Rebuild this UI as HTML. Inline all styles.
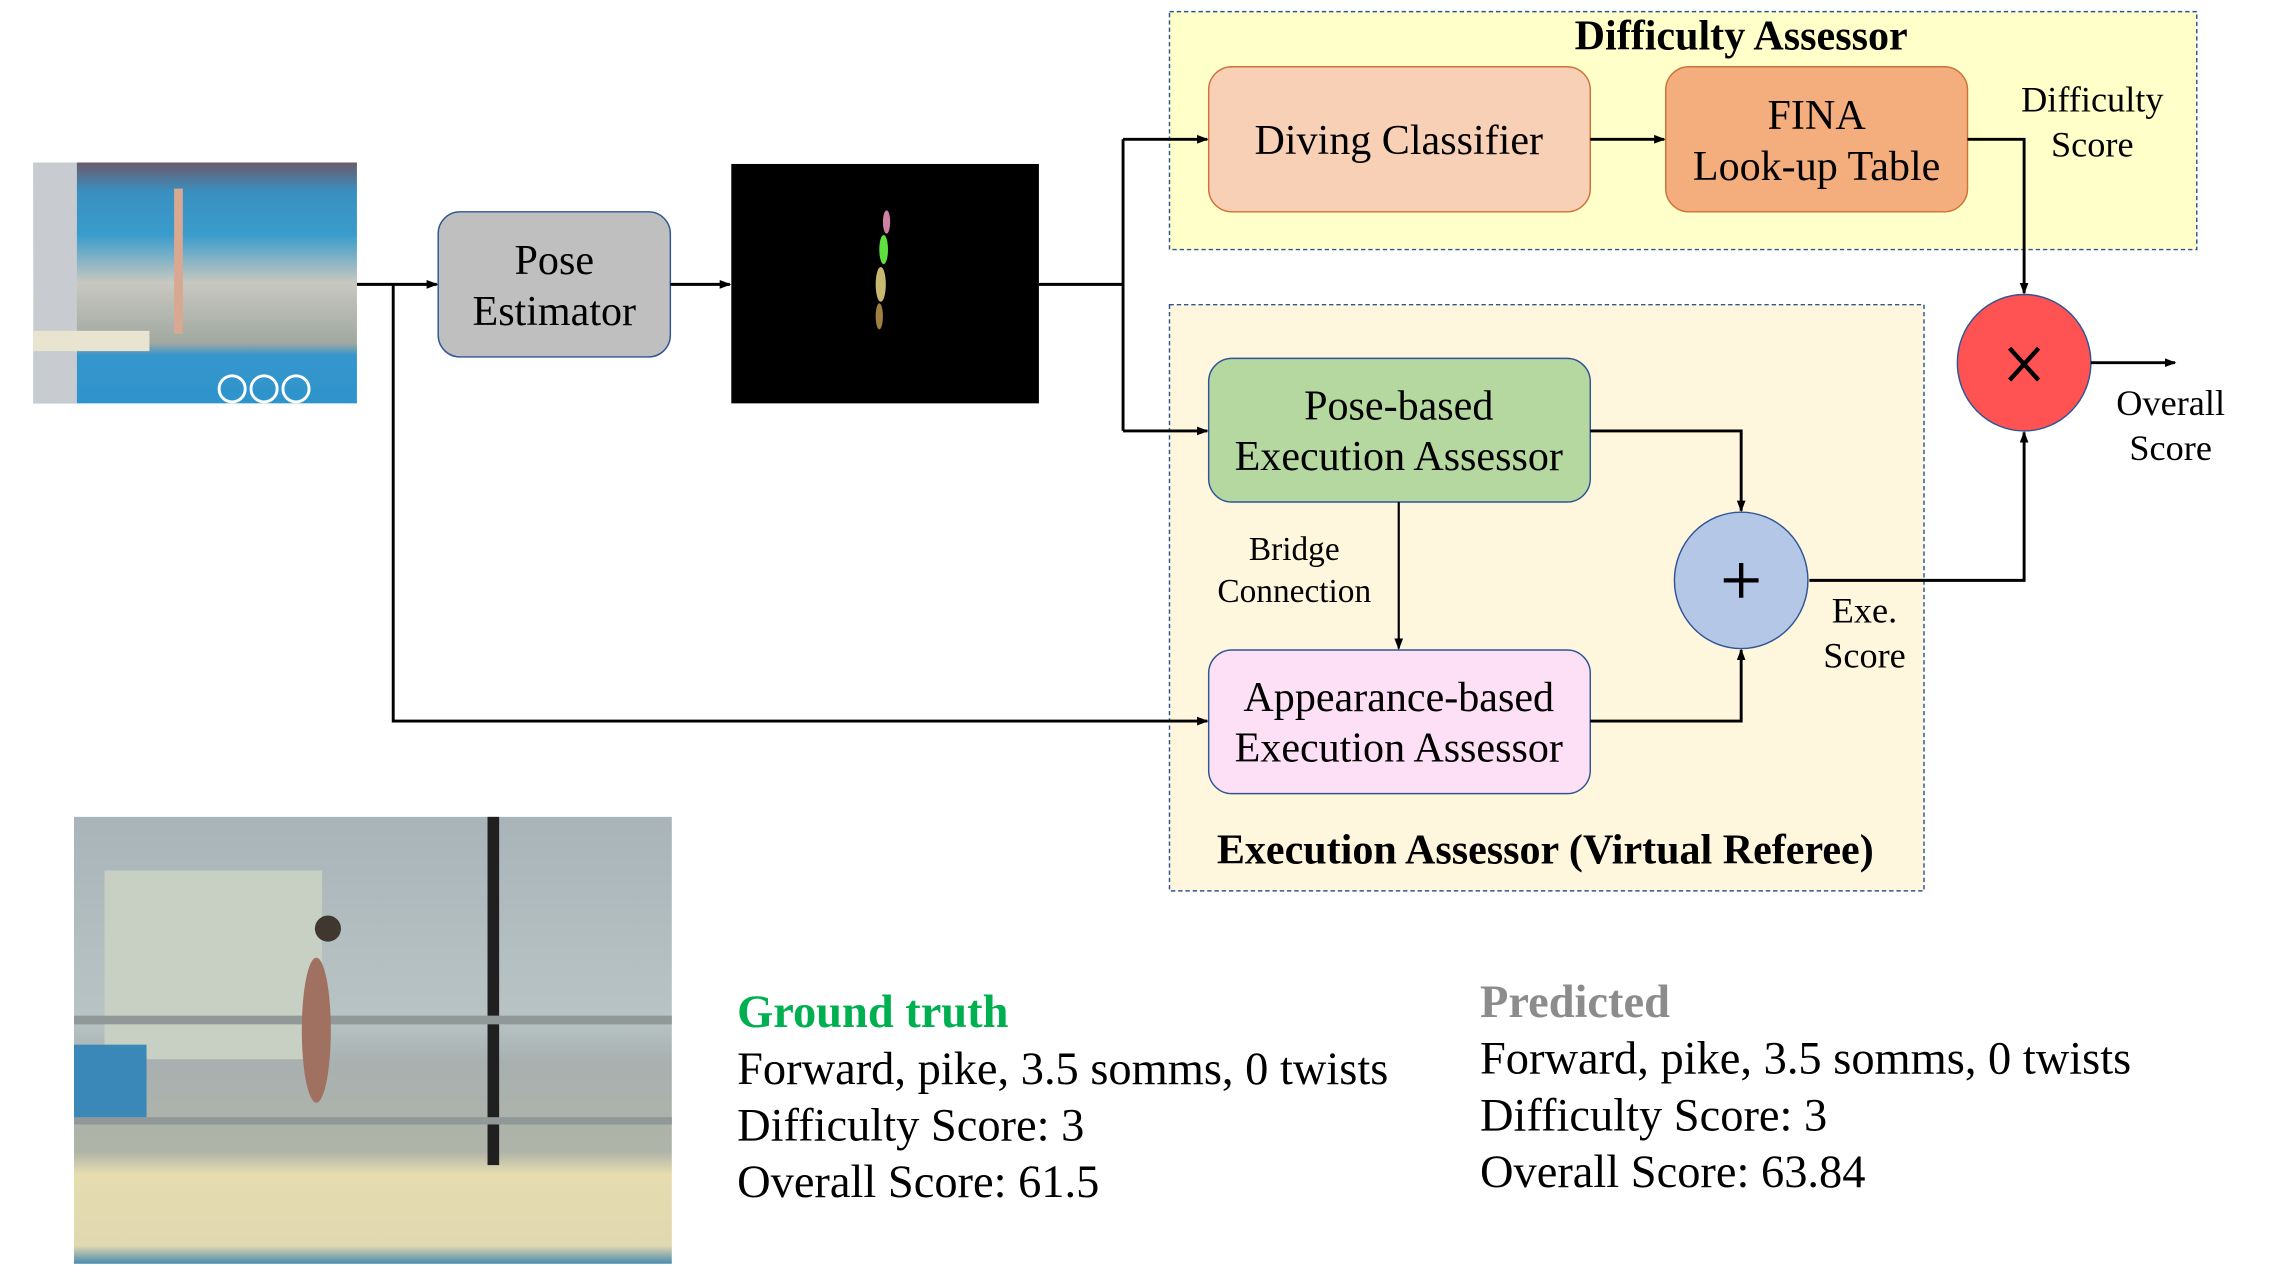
<!DOCTYPE html>
<html><head><meta charset="utf-8"><style>
html,body{margin:0;padding:0;background:#fff;width:2276px;height:1280px;overflow:hidden}
svg{display:block}
text{font-family:"Liberation Serif","Times New Roman",serif;fill:#000}
</style></head><body>
<svg width="2276" height="1280" viewBox="0 0 1568.6 882.2" preserveAspectRatio="none" xmlns="http://www.w3.org/2000/svg">
<defs>
<marker id="ar" markerWidth="8" markerHeight="8" refX="7" refY="4" orient="auto" markerUnits="userSpaceOnUse"><path d="M0,1 L8,4 L0,7 Z" fill="#000"/></marker>
<linearGradient id="p1" x1="0" y1="0" x2="0" y2="1"><stop offset="0" stop-color="#6a5a6a"/><stop offset="0.12" stop-color="#3a8fc0"/><stop offset="0.3" stop-color="#3a9ccc"/><stop offset="0.5" stop-color="#c8c8c0"/><stop offset="0.75" stop-color="#a0a8a0"/><stop offset="0.8" stop-color="#3596cc"/><stop offset="1" stop-color="#2f94cc"/></linearGradient>
<linearGradient id="p2" x1="0" y1="0" x2="0" y2="1"><stop offset="0" stop-color="#a8b4b8"/><stop offset="0.45" stop-color="#b8c4c4"/><stop offset="0.55" stop-color="#a8b0b0"/><stop offset="0.75" stop-color="#b0b4a8"/><stop offset="0.8" stop-color="#e6dcb0"/><stop offset="0.96" stop-color="#e0d8b0"/><stop offset="1" stop-color="#4a8ab0"/></linearGradient>
</defs>

<rect x="23" y="112" width="223" height="166" fill="url(#p1)"/>
<rect x="23" y="112" width="30" height="166" fill="#c8ccd0"/>
<rect x="23" y="228" width="80" height="14" fill="#e8e4d0"/>
<rect x="120" y="130" width="6" height="100" fill="#d8a890"/>
<circle cx="160" cy="268" r="9" fill="none" stroke="#fff" stroke-width="2"/><circle cx="182" cy="268" r="9" fill="none" stroke="#fff" stroke-width="2"/><circle cx="204" cy="268" r="9" fill="none" stroke="#fff" stroke-width="2"/>

<rect x="302" y="146" width="160" height="100" rx="15" fill="#bfbfbf" stroke="#2f5597" stroke-width="1"/>
<text x="382" y="189" font-size="29" text-anchor="middle">Pose</text>
<text x="382" y="224" font-size="29" text-anchor="middle">Estimator</text>

<rect x="504" y="113" width="212" height="165" fill="#000"/>
<ellipse cx="611" cy="153" rx="2.5" ry="8" fill="#d080a0"/>
<ellipse cx="609" cy="172" rx="3" ry="10" fill="#60e040"/>
<ellipse cx="607" cy="196" rx="3.5" ry="12" fill="#c8b870"/>
<ellipse cx="606" cy="218" rx="2.5" ry="9" fill="#a08040"/>

<rect x="806" y="8" width="708" height="164" fill="#ffffc9" stroke="#2f5597" stroke-width="1" stroke-dasharray="3,2"/>
<text x="1200" y="34" font-size="29" font-weight="bold" text-anchor="middle">Difficulty Assessor</text>
<rect x="833" y="46" width="263" height="100" rx="16" fill="#f8d0b5" stroke="#d0703a" stroke-width="1"/>
<text x="964" y="106" font-size="29" text-anchor="middle">Diving Classifier</text>
<rect x="1148" y="46" width="208" height="100" rx="16" fill="#f4ae7e" stroke="#d0703a" stroke-width="1"/>
<text x="1252" y="89" font-size="29" text-anchor="middle">FINA</text>
<text x="1252" y="124" font-size="29" text-anchor="middle">Look-up Table</text>
<text x="1442" y="77" font-size="25" text-anchor="middle">Difficulty</text>
<text x="1442" y="108" font-size="25" text-anchor="middle">Score</text>

<rect x="806" y="210" width="520" height="404" fill="#fff6de" stroke="#2f5597" stroke-width="1" stroke-dasharray="3,2"/>
<rect x="833" y="247" width="263" height="99" rx="16" fill="#b5d7a0" stroke="#2f5597" stroke-width="1"/>
<text x="964" y="289" font-size="29" text-anchor="middle">Pose-based</text>
<text x="964" y="324" font-size="29" text-anchor="middle">Execution Assessor</text>
<rect x="833" y="448" width="263" height="99" rx="16" fill="#fddff6" stroke="#2f5597" stroke-width="1"/>
<text x="964" y="490" font-size="29" text-anchor="middle">Appearance-based</text>
<text x="964" y="525" font-size="29" text-anchor="middle">Execution Assessor</text>
<text x="892" y="386" font-size="23" text-anchor="middle">Bridge</text>
<text x="892" y="415" font-size="23" text-anchor="middle">Connection</text>
<text x="1065" y="595" font-size="29" font-weight="bold" text-anchor="middle">Execution Assessor (Virtual Referee)</text>
<text x="1285" y="429" font-size="25" text-anchor="middle">Exe.</text>
<text x="1285" y="460" font-size="25" text-anchor="middle">Score</text>

<ellipse cx="1200" cy="400" rx="46" ry="47" fill="#b4c7e7" stroke="#2f5597" stroke-width="1"/>
<path d="M1200,388 L1200,412 M1188,400 L1212,400" stroke="#000" stroke-width="3"/>
<ellipse cx="1395" cy="250" rx="46" ry="47" fill="#ff5252" stroke="#2f5597" stroke-width="1"/>
<path d="M1385,240 L1405,262 M1405,240 L1385,262" stroke="#000" stroke-width="3"/>
<text x="1496" y="286" font-size="25" text-anchor="middle">Overall</text>
<text x="1496" y="317" font-size="25" text-anchor="middle">Score</text>

<g stroke="#000" stroke-width="2" fill="none">
<line x1="246" y1="196" x2="301" y2="196" marker-end="url(#ar)"/>
<polyline points="271,196 271,497 832,497" marker-end="url(#ar)"/>
<line x1="462" y1="196" x2="503" y2="196" marker-end="url(#ar)"/>
<line x1="716" y1="196" x2="774" y2="196"/>
<line x1="774" y1="96" x2="774" y2="297"/>
<line x1="774" y1="96" x2="832" y2="96" marker-end="url(#ar)"/>
<line x1="774" y1="297" x2="832" y2="297" marker-end="url(#ar)"/>
<line x1="1096" y1="96" x2="1147" y2="96" marker-end="url(#ar)"/>
<polyline points="1356,96 1395,96 1395,202" marker-end="url(#ar)"/>
<polyline points="1096,297 1200,297 1200,352" marker-end="url(#ar)"/>
<polyline points="1096,497 1200,497 1200,448" marker-end="url(#ar)"/>
<polyline points="1247,400 1395,400 1395,298" marker-end="url(#ar)"/>
<line x1="1441" y1="250" x2="1499" y2="250" marker-end="url(#ar)"/>
<line x1="964" y1="346" x2="964" y2="447" stroke-width="1.5" marker-end="url(#ar)"/>
</g>

<rect x="51" y="563" width="412" height="308" fill="url(#p2)"/>
<rect x="72" y="600" width="150" height="130" fill="#c8d0c4"/>
<rect x="336" y="563" width="8" height="240" fill="#202020"/>
<rect x="51" y="700" width="412" height="6" fill="#909898"/>
<rect x="51" y="770" width="412" height="5" fill="#909898"/>
<rect x="51" y="720" width="50" height="50" fill="#3a88b8"/>
<ellipse cx="218" cy="710" rx="10" ry="50" fill="#a07060"/>
<circle cx="226" cy="640" r="9" fill="#403830"/>

<text x="508" y="708" font-size="32" font-weight="bold" style="fill:#00b050">Ground truth</text>
<text x="508" y="747" font-size="32">Forward, pike, 3.5 somms, 0 twists</text>
<text x="508" y="786" font-size="32">Difficulty  Score: 3</text>
<text x="508" y="825" font-size="32">Overall Score: 61.5</text>
<text x="1020" y="701" font-size="32" font-weight="bold" style="fill:#8c8c8c">Predicted</text>
<text x="1020" y="740" font-size="32">Forward, pike, 3.5 somms, 0 twists</text>
<text x="1020" y="779" font-size="32">Difficulty  Score: 3</text>
<text x="1020" y="818" font-size="32">Overall Score: 63.84</text>
</svg>
</body></html>
